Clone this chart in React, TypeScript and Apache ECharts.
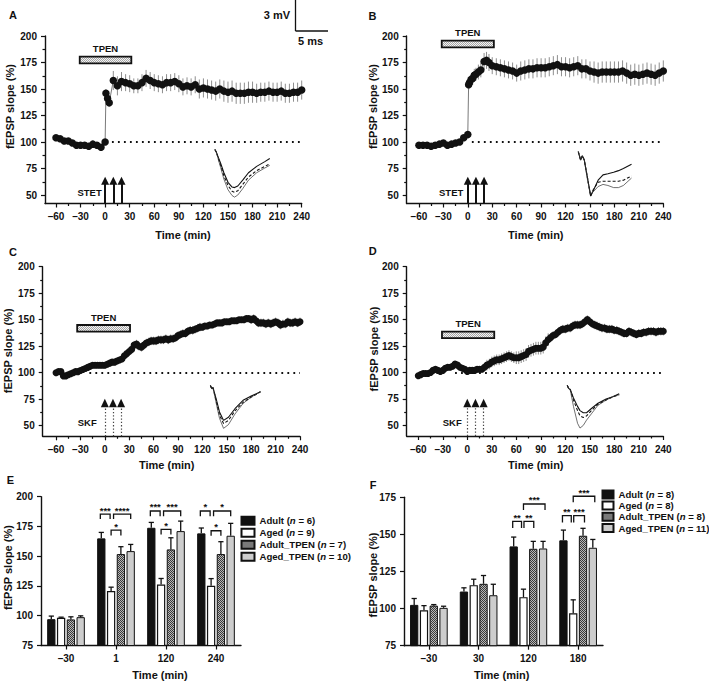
import React, { useEffect, useRef } from 'react';
import * as echarts from 'echarts';

const FONT = '"Liberation Sans", Arial, Helvetica, sans-serif';
const INK = '#111';

// ---------- shared axis ticks ----------
const X_MAJOR = [-60, -30, 0, 30, 60, 90, 120, 150, 180, 210, 240];
const X_MINOR = [-45, -15, 15, 45, 75, 105, 135, 165, 195, 225];
const Y_MAJOR = [50, 75, 100, 125, 150, 175, 200];
const Y_MINOR = [62.5, 87.5, 112.5, 137.5, 162.5, 187.5];
const STIM_T = [0, 10, 20];

// ---------- Panel A ----------
const tA = [-60, -55, -50, -45, -40, -35, -30, -25, -20, -15, -10, -5, 0, 1, 3, 5, 10, 15, 20, 25, 30, 35, 40, 45, 50, 55, 60, 65, 70, 75, 80, 85, 90, 95, 100, 105, 110, 115, 120, 125, 130, 135, 140, 145, 150, 155, 160, 165, 170, 175, 180, 185, 190, 195, 200, 205, 210, 215, 220, 225, 230, 235, 240];
const vA = [104, 103, 101, 101, 99, 97, 97, 97, 96, 98, 97, 95, 100, 146, 141, 137, 158, 153, 157, 156, 155, 153, 153, 156, 160, 158, 156, 155, 154, 156, 156, 157, 155, 152, 153, 152, 154, 150, 151, 150, 149, 148, 150, 148, 147, 148, 146, 146, 146, 147, 147, 146, 147, 147, 148, 147, 147, 148, 146, 146, 147, 147, 149];
const eA = [2, 2, 2, 2, 2, 2, 2, 2, 2, 2, 2, 2, 2, 4, 4, 4, 9, 9, 9, 8, 8, 7, 7, 8, 8, 8, 8, 8, 8, 8, 8, 8, 8, 8, 8, 8, 8, 9, 9, 9, 9, 9, 9, 10, 10, 10, 10, 10, 10, 10, 10, 9, 9, 9, 9, 9, 9, 9, 9, 9, 9, 9, 9];
const trA_t = [134, 136, 138, 141, 145, 150, 155, 158, 162, 168, 175, 185, 195, 201];
const trA_s = [93, 90, 86, 80, 71, 62, 57.5, 57, 58.5, 64, 71, 77, 81.5, 84.5];
const trA_d = [93, 90, 85, 78, 68, 59, 53.5, 52.5, 54, 60, 67, 73, 77, 79.5];
const trA_n = [93, 90, 84, 76, 65, 55, 49.5, 48, 50, 56, 64, 71, 75.5, 78];

// ---------- Panel B ----------
const tB = [-60, -55, -50, -45, -40, -35, -30, -25, -20, -15, -10, -5, 0, 1, 2, 4, 6, 8, 10, 13, 16, 20, 23, 26, 30, 35, 40, 45, 50, 55, 60, 65, 70, 75, 80, 85, 90, 95, 100, 105, 110, 115, 120, 125, 130, 135, 140, 145, 150, 155, 160, 165, 170, 175, 180, 185, 190, 195, 200, 205, 210, 215, 220, 225, 230, 235, 240];
const vB = [97, 97, 97, 96, 97, 98, 99, 97, 98, 99, 100, 104, 107, 154, 156, 159, 160, 163, 164, 166, 168, 176, 177, 175, 172, 171, 170, 169, 168, 167, 165, 167, 168, 169, 169, 170, 170, 170, 171, 172, 173, 171, 171, 170, 171, 172, 169, 169, 167, 166, 165, 166, 166, 166, 166, 166, 167, 165, 163, 164, 163, 164, 165, 164, 163, 165, 167];
const eB = [2, 2, 2, 2, 2, 2, 2, 2, 2, 2, 2, 2, 2, 5, 5, 5, 6, 6, 6, 7, 7, 8, 8, 8, 8, 8, 8, 8, 8, 8, 8, 9, 9, 9, 9, 9, 9, 9, 9, 9, 9, 9, 9, 9, 9, 9, 9, 9, 9, 10, 10, 10, 10, 10, 10, 10, 10, 10, 10, 10, 10, 10, 10, 10, 10, 10, 10];
const trB_t = [135.6, 138.5, 140.6, 143, 147, 150.8, 154, 160, 166, 172, 179, 185, 191, 201];
const trB_s = [91, 83, 87, 83, 66, 49, 54, 64, 69, 70, 71.5, 73, 75, 79];
const trB_d = [91, 83, 87, 83, 66, 49, 55, 62, 63, 63, 63, 63, 64, 68];
const trB_n = [91, 83, 87, 83, 64, 51, 53, 58, 60, 59, 57, 57, 59, 66];

// ---------- Panels C and D (3-min sampling) ----------
const tCD = [-60, -57, -54, -51, -48, -45, -42, -39, -36, -33, -30, -27, -24, -21, -18, -15, -12, -9, -6, -3, 0, 3, 6, 9, 12, 15, 18, 21, 24, 27, 30, 33, 36, 39, 42, 45, 48, 51, 54, 57, 60, 63, 66, 69, 72, 75, 78, 81, 84, 87, 90, 93, 96, 99, 102, 105, 108, 111, 114, 117, 120, 123, 126, 129, 132, 135, 138, 141, 144, 147, 150, 153, 156, 159, 162, 165, 168, 171, 174, 177, 180, 183, 186, 189, 192, 195, 198, 201, 204, 207, 210, 213, 216, 219, 222, 225, 228, 231, 234, 237, 240];
const vC = [100, 101, 101, 97, 97, 98, 99, 100, 101, 101, 102, 103, 104, 105, 106, 107, 107, 107, 107, 107,
  107, 108, 109, 110, 110, 111, 112, 113, 116, 118, 120, 122, 126, 127, 125, 124, 126, 128, 129, 130,
  130, 130, 131, 131, 131, 132, 131, 132, 132, 133, 135, 136, 137, 137, 139, 140, 140, 141, 142, 143,
  143, 144, 144, 145, 145, 146, 147, 147, 147, 148, 148, 148, 149, 149, 149, 150, 150, 150, 151, 151,
  150, 151, 149, 147, 147, 147, 146, 147, 146, 147, 148, 147, 145, 146, 146, 148, 147, 147, 148, 147,
  148];
const eC = [2, 2, 2, 2, 2, 2, 2, 2, 2, 2, 2, 2, 2, 2, 2, 2, 2, 2, 2, 2,
  3, 3, 3, 3, 3, 3, 3, 3, 3, 3, 4, 4, 4, 4, 4, 4, 4, 4, 4, 4,
  4, 4, 4, 4, 4, 4, 4, 4, 4, 4, 4, 4, 4, 4, 4, 4, 4, 4, 4, 4,
  3, 3, 3, 3, 3, 3, 3, 3, 3, 3, 3, 3, 3, 3, 3, 3, 3, 3, 3, 3,
  4, 4, 4, 4, 4, 4, 4, 4, 4, 4, 4, 4, 4, 4, 4, 4, 4, 4, 4, 4,
  4];
const trC_t = [129.8, 131.5, 133, 137, 141, 146, 152, 160, 170, 180, 191.4];
const trC_s = [88, 85, 86, 75, 63, 55, 58, 66, 74, 78, 82];
const trC_d = [88, 85, 86, 73, 60, 52, 55, 64, 72, 77, 82];
const trC_n = [88, 85, 86, 71, 57, 47.5, 51, 61, 71, 77, 82];

const vD = [97, 98, 99, 99, 99, 100, 102, 103, 102, 101, 102, 104, 105, 105, 106, 108, 107, 105, 104, 103,
  101, 102, 102, 102, 103, 103, 103, 105, 107, 108, 110, 111, 112, 112, 113, 114, 115, 116, 115, 114,
  114, 114, 115, 116, 117, 120, 121, 122, 123, 123, 123, 124, 128, 131, 133, 135, 136, 138, 140, 141,
  141, 142, 142, 144, 145, 145, 145, 146, 148, 150, 148, 146, 145, 144, 143, 142, 142, 141, 141, 141,
  140, 140, 139, 138, 137, 137, 139, 138, 137, 136, 137, 137, 138, 138, 139, 139, 139, 138, 139, 139,
  139];
const eD = [3, 3, 3, 3, 3, 3, 3, 3, 3, 3, 3, 3, 3, 3, 3, 3, 3, 3, 3, 3,
  3, 3, 3, 3, 3, 3, 3, 3, 5, 5, 5, 5, 5, 5, 5, 5, 5, 5, 5, 5,
  6, 6, 6, 6, 6, 6, 6, 6, 6, 6, 6, 6, 6, 6, 4, 4, 4, 4, 4, 4,
  4, 4, 4, 4, 4, 4, 4, 4, 4, 4, 4, 4, 4, 4, 4, 4, 4, 4, 4, 4,
  4, 4, 4, 4, 4, 4, 4, 4, 4, 4, 4, 4, 4, 4, 4, 4, 4, 4, 4, 4,
  4];
const trD_t = [122.4, 124, 126, 130, 135, 138, 142, 146, 152, 160, 170, 178, 186];
const trD_s = [88, 85, 84, 76, 68, 64, 62, 62, 66, 71, 75, 77, 80];
const trD_d = [88, 85, 84, 74, 64, 59, 57.5, 59, 64, 70, 74, 77, 79];
const trD_n = [88, 85, 84, 68, 52, 47.5, 50, 55, 61, 69, 74, 77, 79];

// ---------- Panel E ----------
const catsE = ['–30', '1', '120', '240'];
const adultE = [97.1, 165, 173.9, 169.2];
const semAdultE = [2.6, 5, 4.5, 4.5];
const agedE = [98.3, 120.7, 126.3, 125.2];
const semAgedE = [0.5, 3.3, 5, 6];
const adultTpenE = [96.9, 151.8, 155.7, 151.8];
const semAdultTpenE = [2.2, 6.2, 9.8, 10.4];
const agedTpenE = [98.8, 154.3, 171.1, 167.2];
const semAgedTpenE = [1.1, 5.6, 8.4, 10.4];
const namesE = ['Adult (n = 6)', 'Aged (n = 9)', 'Adult_TPEN (n = 7)', 'Aged_TPEN (n = 10)'];
// [category, fromBar, toBar, top, legEnd]
const bracketsE = [[1, -0.1, 0.9, 185.4, 181.2], [1, 1.25, 3, 185.4, 181.2], [1, 1, 2, 172, 167.5], [2, -0.1, 0.9, 188, 183.5], [2, 1.25, 3, 188, 183.5], [2, 1, 2, 172.5, 168.3], [3, -0.1, 0.9, 188, 183.5], [3, 1.25, 3, 188, 183.5], [3, 1, 2, 171.4, 167.2]];
const starsE = ['***', '****', '*', '***', '***', '*', '*', '*', '*'];

// ---------- Panel F ----------
const catsF = ['–30', '30', '120', '180'];
const adultF = [102.5, 111.5, 141.9, 146];
const semAdultF = [4.3, 2.5, 6.3, 6.9];
const agedF = [98.9, 115.8, 107.7, 96.8];
const semAgedF = [3.1, 4, 5.4, 9.1];
const adultTpenF = [102, 116.7, 140.3, 149.1];
const semAdultTpenF = [0.7, 5.6, 5, 5];
const agedTpenF = [100.5, 109, 140.5, 141];
const semAgedTpenF = [1.1, 7.4, 4.8, 5.6];
const namesF = ['Adult (n = 8)', 'Aged (n = 8)', 'Adult_TPEN (n = 8)', 'Aged_TPEN (n = 11)'];
const bracketsF = [[2, -0.1, 0.8, 158.8, 154.3], [2, 1.05, 2.05, 158.8, 154.3], [2, 1, 3.2, 170.5, 166.4], [3, -0.1, 0.8, 162.6, 158.1], [3, 1.05, 2.15, 162.6, 158.1], [3, 1, 3.2, 175.7, 171.6]];
const starsF = ['**', '**', '***', '**', '***', '***'];

const BAR_W = 8.3;
const BAR_GAP = 0.18;
const PITCH = BAR_W * (1 + BAR_GAP);

function makePattern(bg: string, fg: string) {
  const cv = document.createElement('canvas');
  cv.width = 2;
  cv.height = 2;
  const ctx = cv.getContext('2d')!;
  ctx.fillStyle = bg;
  ctx.fillRect(0, 0, 2, 2);
  ctx.fillStyle = fg;
  ctx.fillRect(0, 0, 1, 1);
  ctx.fillRect(1, 1, 1, 1);
  return { image: cv, repeat: 'repeat', imageWidth: 2, imageHeight: 2 } as any;
}

const fmtMinus = (v: number) => (v < 0 ? '–' + Math.abs(v) : String(v));

const errRender = (params: any, api: any) => {
  const x = api.value(0);
  const p1 = api.coord([x, api.value(1)]);
  const p2 = api.coord([x, api.value(2)]);
  return { type: 'line', shape: { x1: p1[0], y1: p1[1], x2: p2[0], y2: p2[1] }, style: { stroke: '#8e8e8e', lineWidth: 1 }, silent: true };
};

const barErrRender = (params: any, api: any) => {
  const c = api.value(0);
  const s = api.value(1);
  const p1 = api.coord([c, api.value(2)]);
  const p2 = api.coord([c, api.value(3)]);
  const x = p1[0] + (s - 1.5) * PITCH;
  return {
    type: 'group',
    children: [
      { type: 'line', shape: { x1: x, y1: p1[1], x2: x, y2: p2[1] }, style: { stroke: INK, lineWidth: 1.3 } },
      { type: 'line', shape: { x1: x - 2.6, y1: p2[1], x2: x + 2.6, y2: p2[1] }, style: { stroke: INK, lineWidth: 1.3 } },
    ],
  };
};

const bracketRender = (labels: string[]) => (params: any, api: any) => {
  const c = api.value(0);
  const pTop = api.coord([c, api.value(3)]);
  const pLeg = api.coord([c, api.value(4)]);
  const xa = pTop[0] + (api.value(1) - 1.5) * PITCH;
  const xb = pTop[0] + (api.value(2) - 1.5) * PITCH;
  return {
    type: 'group',
    children: [
      { type: 'polyline', shape: { points: [[xa, pLeg[1]], [xa, pTop[1]], [xb, pTop[1]], [xb, pLeg[1]]] }, style: { stroke: INK, lineWidth: 1.3, fill: 'none' } },
      { type: 'text', x: (xa + xb) / 2, y: pTop[1] + 1, style: { text: labels[params.dataIndex], fontSize: 9.5, fontWeight: 'bold', fontFamily: FONT, fill: INK, align: 'center', verticalAlign: 'bottom' } },
    ],
  };
};

const legendFmt = (name: string) => {
  const m = name.match(/^(.*)\(n( = \d+\))$/);
  return m ? `{a|${m[1]}(}{i|n}{a|${m[2]}}` : name;
};

function buildOption() {
  const tpenFill = makePattern('#f4f4f4', '#a6a6a6');
  const checkFill = makePattern('#b8b8b8', '#3a3a3a');
  const lab = { fontSize: 10, fontWeight: 'bold', color: INK, fontFamily: FONT };
  const axLine = { show: true, onZero: false, lineStyle: { color: INK, width: 1.4 } };
  const noLine = { show: false, onZero: false };
  const tickStyle = { color: INK, width: 1.2 };

  const linePanels = [
    { grid: [45, 36, 256.7, 167.5], xmin: -73.4, ymin: 42, t: tA, v: vA, e: eA, trT: trA_t, trS: trA_s, trD: trA_d, trN: trA_n, tpen: [-31, 32, 174.2, 180.5], base: 1, stim: 'STET', sym: 7.5 },
    { grid: [406.7, 36, 256.6, 167.5], xmin: -75, ymin: 42, t: tB, v: vB, e: eB, trT: trB_t, trS: trB_s, trD: trB_d, trN: trB_n, tpen: [-32, 32, 189.3, 195.6], base: 5, stim: 'STET', sym: 7.5 },
    { grid: [42.7, 266.7, 257.3, 169.6], xmin: -76.4, ymin: 40, t: tCD, v: vC, e: eC, trT: trC_t, trS: trC_s, trD: trC_d, trN: trC_n, tpen: [-34, 31, 138.7, 145], base: -19, stim: 'SKF', sym: 7 },
    { grid: [406.7, 266.7, 256.6, 169.3], xmin: -74.2, ymin: 40, t: tCD, v: vD, e: eD, trT: trD_t, trS: trD_s, trD: trD_d, trN: trD_n, tpen: [-31, 33, 132.5, 138.7], base: -15, stim: 'SKF', sym: 7 },
  ];

  const grid: any[] = [];
  const xAxis: any[] = [];
  const yAxis: any[] = [];
  const series: any[] = [];
  const legend: any[] = [];

  linePanels.forEach((p, k) => {
    grid.push({ left: p.grid[0], top: p.grid[1], width: p.grid[2], height: p.grid[3] });
    const xi = xAxis.length;
    const yi = yAxis.length;
    xAxis.push({ gridIndex: k, type: 'value', position: 'bottom', min: p.xmin, max: 240, axisLine: axLine, axisTick: { show: true, customValues: X_MAJOR, length: 4, lineStyle: tickStyle }, axisLabel: { ...lab, customValues: X_MAJOR, margin: 8, formatter: fmtMinus }, splitLine: { show: false } });
    xAxis.push({ gridIndex: k, type: 'value', position: 'bottom', min: p.xmin, max: 240, axisLine: noLine, axisTick: { show: true, customValues: X_MINOR, length: 2.5, lineStyle: tickStyle }, axisLabel: { show: false }, splitLine: { show: false } });
    yAxis.push({ gridIndex: k, type: 'value', position: 'left', min: p.ymin, max: 200, axisLine: axLine, axisTick: { show: true, customValues: Y_MAJOR, length: 4, lineStyle: tickStyle }, axisLabel: { ...lab, customValues: Y_MAJOR, margin: 8 }, splitLine: { show: false } });
    yAxis.push({ gridIndex: k, type: 'value', position: 'left', min: p.ymin, max: 200, axisLine: noLine, axisTick: { show: true, customValues: Y_MINOR, length: 2.5, lineStyle: tickStyle }, axisLabel: { show: false }, splitLine: { show: false } });

    series.push({ type: 'custom', xAxisIndex: xi, yAxisIndex: yi, data: p.t.map((x, i) => [x, p.v[i] - p.e[i], p.v[i] + p.e[i]]), encode: { x: 0, y: [1, 2] }, renderItem: errRender, silent: true, z: 1 });
    series.push({
      type: 'line', xAxisIndex: xi, yAxisIndex: yi, data: p.t.map((x, i) => [x, p.v[i]]), symbol: 'circle', symbolSize: p.sym,
      itemStyle: { color: INK, borderWidth: 0 }, lineStyle: { color: '#7a7a7a', width: 1 }, silent: true, z: 3,
      markLine: { silent: true, symbol: ['none', 'none'], label: { show: false }, lineStyle: { color: INK, width: 1.8, type: [1.8, 4.2] }, data: [[{ coord: [p.base, 100] }, { coord: [240, 100] }]] },
      markArea: { silent: true, itemStyle: { color: tpenFill, borderColor: INK, borderWidth: 1.8 }, label: { show: true, position: 'top', distance: 2, ...lab, fontSize: 9.5 }, data: [[{ name: 'TPEN', coord: [p.tpen[0], p.tpen[2]] }, { coord: [p.tpen[1], p.tpen[3]] }]] },
    });
    const stimMark = p.stim === 'STET'
      ? { markLine: { silent: true, symbol: ['none', 'triangle'], symbolSize: 8, label: { show: false }, lineStyle: { color: INK, width: 2, type: 'solid' }, data: STIM_T.map((t) => [{ coord: [t, p.ymin] }, { coord: [t, 63.5] }]) } }
      : {
        markLine: { silent: true, symbol: ['none', 'none'], label: { show: false }, lineStyle: { color: '#444', width: 1.2, type: [1.3, 2] }, data: STIM_T.map((t) => [{ coord: [t, p.ymin] }, { coord: [t, 67] }]) },
        markPoint: { silent: true, symbol: 'triangle', symbolSize: [8, 8.5], itemStyle: { color: INK }, label: { show: false }, data: STIM_T.map((t) => ({ coord: [t, 71.3] })) },
      };
    series.push({ type: 'line', xAxisIndex: xi, yAxisIndex: yi, data: p.trT.map((x, i) => [x, p.trS[i]]), showSymbol: false, lineStyle: { color: INK, width: 1.1 }, silent: true, z: 2, ...stimMark });
    series.push({ type: 'line', xAxisIndex: xi, yAxisIndex: yi, data: p.trT.map((x, i) => [x, p.trD[i]]), showSymbol: false, lineStyle: { color: INK, width: 1.1, type: [3, 2] }, silent: true, z: 2 });
    series.push({ type: 'line', xAxisIndex: xi, yAxisIndex: yi, data: p.trT.map((x, i) => [x, p.trN[i]]), showSymbol: false, lineStyle: { color: '#333', width: 0.7 }, silent: true, z: 2 });
  });

  const barStyles = [
    { color: INK, borderColor: INK, borderWidth: 1 },
    { color: '#ffffff', borderColor: INK, borderWidth: 1.2 },
    { color: checkFill, borderColor: INK, borderWidth: 1 },
    { color: '#cdcdcd', borderColor: INK, borderWidth: 1 },
  ];
  const barPanels = [
    { grid: [41, 496.7, 200, 148.8], ymax: 200, cats: catsE, names: namesE, means: [adultE, agedE, adultTpenE, agedTpenE], sems: [semAdultE, semAgedE, semAdultTpenE, semAgedTpenE], br: bracketsE, stars: starsE, leg: { left: 240.5, top: 514.7, w: 13, lh: 12 } },
    { grid: [404, 497.3, 199, 148.4], ymax: 175, cats: catsF, names: namesF, means: [adultF, agedF, adultTpenF, agedTpenF], sems: [semAdultF, semAgedF, semAdultTpenF, semAgedTpenF], br: bracketsF, stars: starsF, leg: { left: 601.5, top: 488.8, w: 11, lh: 11.2 } },
  ];
  barPanels.forEach((p, j) => {
    const k = 4 + j;
    grid.push({ left: p.grid[0], top: p.grid[1], width: p.grid[2], height: p.grid[3] });
    const xi = xAxis.length;
    const yi = yAxis.length;
    xAxis.push({ gridIndex: k, type: 'category', position: 'bottom', data: p.cats, axisLine: axLine, axisTick: { show: true, alignWithLabel: true, length: 4, lineStyle: tickStyle }, axisLabel: { ...lab, margin: 8 }, splitLine: { show: false } });
    yAxis.push({ gridIndex: k, type: 'value', position: 'left', min: 75, max: p.ymax, interval: 25, axisLine: axLine, axisTick: { show: true, length: 4, lineStyle: tickStyle }, axisLabel: { ...lab, margin: 8 }, splitLine: { show: false } });
    p.means.forEach((m, s) => {
      series.push({ type: 'bar', name: p.names[s], xAxisIndex: xi, yAxisIndex: yi, data: m, barWidth: BAR_W, barGap: BAR_GAP * 100 + '%', itemStyle: barStyles[s], silent: true, z: 2 });
    });
    const errData: number[][] = [];
    p.means.forEach((m, s) => m.forEach((val, c) => errData.push([c, s, val, val + p.sems[s][c]])));
    series.push({ type: 'custom', xAxisIndex: xi, yAxisIndex: yi, data: errData, encode: { x: 0, y: [2, 3] }, renderItem: barErrRender, silent: true, z: 3 });
    series.push({ type: 'custom', xAxisIndex: xi, yAxisIndex: yi, data: p.br, encode: { x: 0, y: [3, 4] }, renderItem: bracketRender(p.stars), silent: true, z: 3 });
    const rs = { fontSize: 9.6, fontWeight: 'bold', fontFamily: FONT, color: INK, lineHeight: p.leg.lh };
    legend.push({
      data: p.names, orient: 'vertical', left: p.leg.left, top: p.leg.top, icon: 'rect', itemWidth: p.leg.w, itemHeight: 8, itemGap: 0, selectedMode: false, padding: 0,
      formatter: legendFmt,
      textStyle: { ...rs, rich: { a: rs, i: { ...rs, fontStyle: 'italic' } } },
    });
  });

  const txt = (text: string, x: number, y: number, size: number, align = 'center', rotation = 0) => ({
    type: 'text', x, y, rotation, silent: true,
    style: { text, fontSize: size, fontWeight: 'bold', fontFamily: FONT, fill: INK, align, verticalAlign: 'middle' },
  });
  const elements: any[] = [
    txt('A', 13, 15, 11), txt('B', 372.5, 16, 11), txt('C', 13, 252, 11), txt('D', 372.7, 251, 11), txt('E', 10.5, 479.5, 11), txt('F', 373, 485, 11),
    txt('Time (min)', 183, 235, 11), txt('Time (min)', 535.8, 235, 11), txt('Time (min)', 166.7, 465, 11), txt('Time (min)', 535.8, 465, 11), txt('Time (min)', 160, 675, 11), txt('Time (min)', 501.7, 675, 11),
    txt('fEPSP slope (%)', 10, 106.5, 11, 'center', Math.PI / 2), txt('fEPSP slope (%)', 372.5, 106.5, 11, 'center', Math.PI / 2),
    txt('fEPSP slope (%)', 8, 350.8, 11, 'center', Math.PI / 2), txt('fEPSP slope (%)', 374, 349, 11, 'center', Math.PI / 2),
    txt('fEPSP slope (%)', 8, 567.5, 11, 'center', Math.PI / 2), txt('fEPSP slope (%)', 372.5, 575, 11, 'center', Math.PI / 2),
    txt('STET', 101.7, 192.7, 9.5, 'right'), txt('STET', 463.3, 192.7, 9.5, 'right'),
    txt('SKF', 96.7, 422.3, 9.5, 'right'), txt('SKF', 461.7, 422.3, 9.5, 'right'),
    txt('3 mV', 290, 15, 11, 'right'), txt('5 ms', 310.5, 41, 11, 'center'),
    { type: 'line', silent: true, shape: { x1: 295.5, y1: 0, x2: 295.5, y2: 31 }, style: { stroke: INK, lineWidth: 1.3 } },
    { type: 'line', silent: true, shape: { x1: 295.5, y1: 31, x2: 328, y2: 31 }, style: { stroke: INK, lineWidth: 1.3 } },
  ];

  return {
    animation: false,
    backgroundColor: '#ffffff',
    textStyle: { fontFamily: FONT },
    grid, xAxis, yAxis, series, legend,
    graphic: { elements },
  };
}

export default function App() {
  const ref = useRef<HTMLDivElement>(null);
  useEffect(() => {
    if (!ref.current) return;
    const chart = echarts.init(ref.current, undefined, { renderer: 'svg' });
    chart.setOption(buildOption() as any);
    return () => chart.dispose();
  }, []);
  return <div ref={ref} style={{ position: 'fixed', left: 0, top: 0, width: 709, height: 682, background: '#fff' }} />;
}
